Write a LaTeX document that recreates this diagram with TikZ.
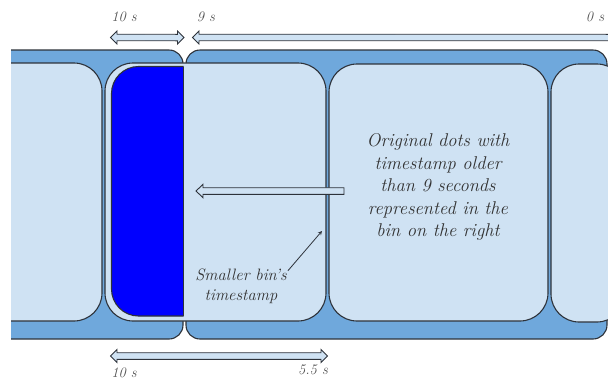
\documentclass[tikz,border=0pt]{standalone}
\usetikzlibrary{arrows}
\definecolor{stripblue}{RGB}{111,168,220}
\definecolor{binblue}{RGB}{207,226,243}
\definecolor{edgegray}{RGB}{45,50,58}
\definecolor{textgray}{RGB}{50,50,50}

\begin{document}
\begin{tikzpicture}[x=1pt,y=-1pt,>=stealth,
    stripbox/.style={fill=stripblue,draw=edgegray,line width=1.1pt,rounded corners=14pt},
    binbox/.style={fill=binblue,draw=edgegray,line width=1.1pt,rounded corners=28pt},
    timearrow/.style={fill=binblue,draw=edgegray,line width=0.9pt},
    timelabel/.style={font=\fontsize{14.5}{20}\selectfont\itshape,text=textgray!85!white,inner sep=1pt},
    notetext/.style={font=\fontsize{18.5}{22.5}\selectfont\itshape,text=textgray,align=center}]
  \useasboundingbox (0,0) rectangle (608,381);
  \begin{scope}
    \clip (11,0) rectangle (608,381);
    % two strips
    \draw[stripbox] (-30,50) rectangle (183,339);
    \draw[stripbox] (186,50) rectangle (607,339);
    % bins
    \draw[binbox] (-118,63) rectangle (102,321);
    \draw[binbox] (105,63) rectangle (326,321);
    \draw[binbox] (329,64) rectangle (548,321);
    \draw[binbox] (551,64) rectangle (625,322);
    % smaller bin
    \begin{scope}
      \clip (0,0) rectangle (183.5,381);
      \draw[binbox,fill=blue,rounded corners=27pt] (111.5,66.5) rectangle (240,316);
    \end{scope}
    \draw[edgegray,line width=1.1pt] (183.5,66.5) -- (183.5,316);
    % time ranges
    \draw[timearrow] (110.5,37.5) -- ++(6.5,-6.5) -- ++(0,3.2) -- (177.5,34.3)
      -- ++(0,-3.2) -- (184,37.5) -- ++(-6.5,6.5) -- ++(0,-3.2) -- (117,40.7)
      -- ++(0,3.2) -- cycle;
    \draw[timearrow] (192.5,37.5) -- ++(6.5,-6.5) -- ++(0,3.2) -- (620,34.3)
      -- (620,40.7) -- (199,40.7) -- ++(0,3.2) -- cycle;
    \draw[timearrow] (110.5,356) -- ++(6.5,-6.5) -- ++(0,3.2) -- (321,352.7)
      -- ++(0,-3.2) -- (327.5,356) -- ++(-6.5,6.5) -- ++(0,-3.2) -- (117,359.3)
      -- ++(0,3.2) -- cycle;
    % moved timestamp
    \draw[timearrow] (196,191) -- (203,184.3) -- (203,187.7) -- (344,187.7)
      -- (344,194.3) -- (203,194.3) -- (203,197.7) -- cycle;
  \end{scope}
  \node[timelabel] (tenup) at (124,17) {10 s};
  \node[timelabel] (nineup) at (206,17) {9 s};
  \node[timelabel] (zeroup) at (595,17) {0 s};
  \node[timelabel] (tendown) at (124,372.5) {10 s};
  \node[timelabel] (fivedown) at (313,370) {5.5 s};
  \node[timelabel,font=\fontsize{16.5}{20}\selectfont\itshape,text=textgray,align=center]
    (smallstamp) at (241,286) {Smaller bin's\\timestamp};
  \node[notetext] (original) at (438,187)
    {Original dots with\\timestamp older\\than 9 seconds\\represented in the\\bin on the right};
  \coordinate (binedge) at (322,231);
  \draw[->,edgegray,line width=0.8pt] (smallstamp.18) -- (binedge);
\end{tikzpicture}
\end{document}
